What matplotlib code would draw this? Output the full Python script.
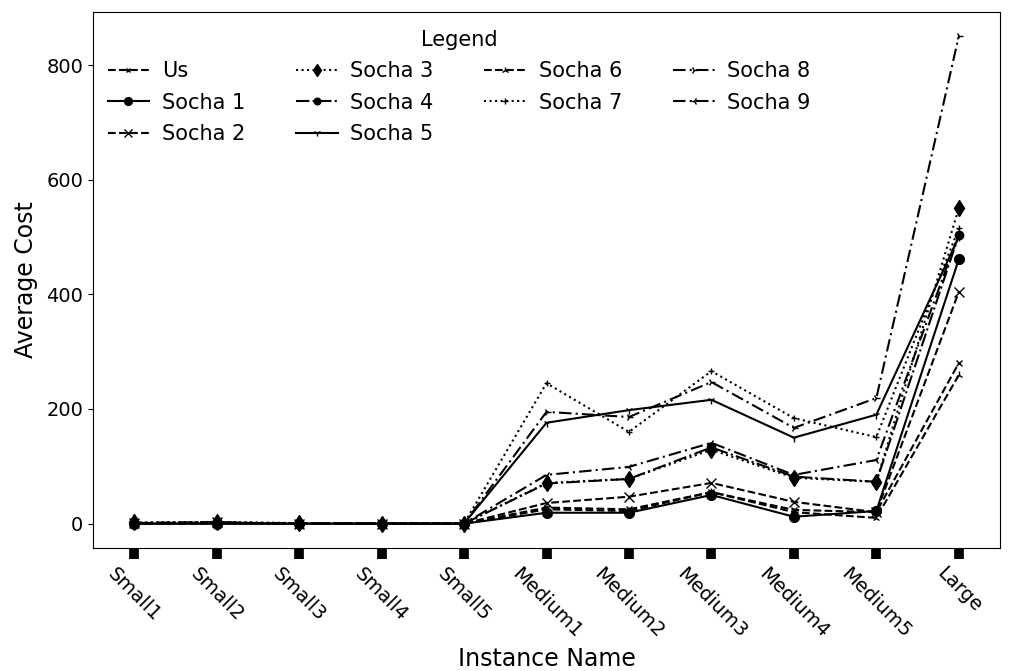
import matplotlib
matplotlib.use("Agg")
import matplotlib.pyplot as plt
import numpy as np

# -------------------------- Data --------------------------
instances = ['Small1', 'Small2', 'Small3', 'Small4', 'Small5',
             'Medium1', 'Medium2', 'Medium3', 'Medium4', 'Medium5', 'Large']

us      = [0, 1, 0, 0, 0, 28, 25, 55, 24, 20, 280]
socha_1 = [0, 0, 0, 0, 0, 19, 19, 50, 12, 22, 461]
socha_2 = [1, 2, 0, 0, 0, 36, 47, 71, 38, 20, 404]
socha_3 = [2, 3, 1, 0, 0, 71, 78, 129, 80, 73, 550]
socha_4 = [1, 2, 0, 0, 0, 70, 78, 133, 82, 73, 503]
socha_5 = [0, 0, 0, 0, 0, 176, 198, 216, 150, 190, 500]
socha_6 = [0, 1, 0, 0, 0, 25, 22, 55, 20, 10, 259]
socha_7 = [1, 2, 0, 0, 0, 245, 160, 266, 184, 151, 515]
socha_8 = [1, 2, 0, 0, 0, 195, 186, 247, 167, 219, 850]
socha_9 = [1, 2, 0, 0, 0, 85, 99, 141, 85, 111, 505]

# label, values, linestyle, marker, markersize
series = [
    ('Us', us, '--', 'x', 4),
    ('Socha 1', socha_1, '-', 'o', 7),
    ('Socha 2', socha_2, '--', 'x', 7),
    ('Socha 3', socha_3, ':', 'd', 8),
    ('Socha 4', socha_4, '-.', 'o', 6),
    ('Socha 5', socha_5, '-', '1', 6),
    ('Socha 6', socha_6, '--', '2', 6),
    ('Socha 7', socha_7, ':', '+', 5),
    ('Socha 8', socha_8, (0, (6, 2, 1, 2)), '4', 6),
    ('Socha 9', socha_9, (0, (6, 2, 1, 2)), '3', 6),
]

# -------------------------- Plot --------------------------
fig = plt.figure(figsize=(10.09, 6.71), dpi=100)
ax = fig.add_axes([93 / 1009, 1 - 548 / 671, (1000 - 93) / 1009, (548 - 12) / 671])

x_pos = np.arange(len(instances))
for label, vals, ls, mk, ms in series:
    ax.plot(x_pos, vals, linestyle=ls, marker=mk, markersize=ms,
            color='black', linewidth=1.5, label=label)

ax.set_xticks(x_pos)
ax.set_xticklabels(instances, rotation=-45, fontsize=14)
ax.tick_params(axis='x', length=8, width=7)
ax.tick_params(axis='y', labelsize=14)
ax.set_xlabel('Instance Name', fontsize=17)
ax.set_ylabel('Average Cost', fontsize=17, labelpad=6)

leg = ax.legend(title='Legend', ncol=4, loc='upper left', frameon=False,
                fontsize=15, title_fontsize=15, markerscale=0.8,
                bbox_to_anchor=(0, 0.994), labelspacing=0.55,
                borderaxespad=0.3, handletextpad=0.6, columnspacing=2.45)

fig.savefig('out.png', dpi=100)
